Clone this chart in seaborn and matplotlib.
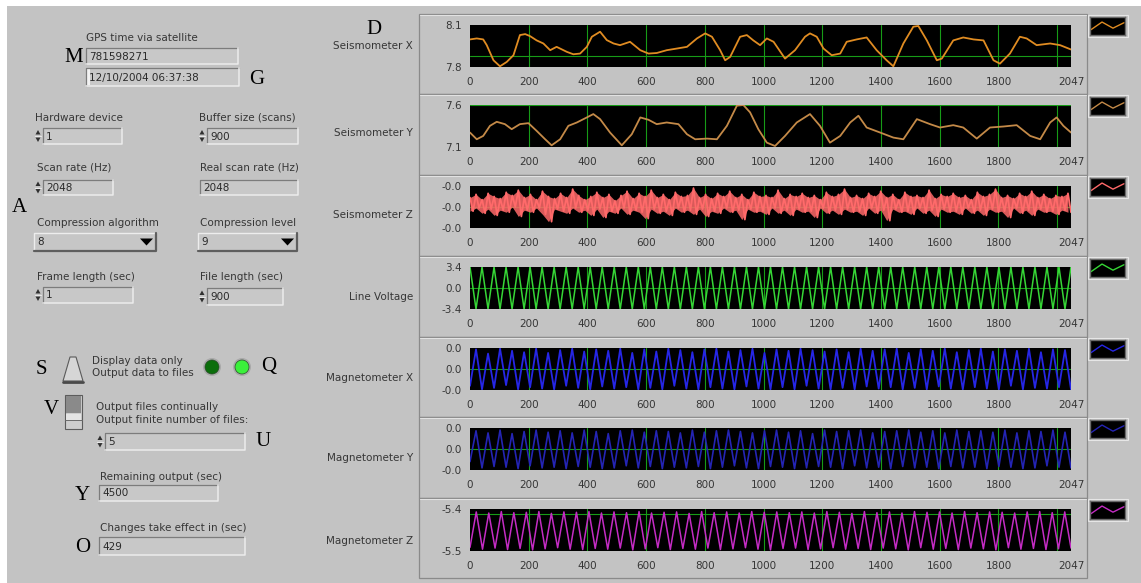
import matplotlib
matplotlib.use('Agg')

import numpy as np
import matplotlib.pyplot as plt
from matplotlib.patches import Rectangle, Polygon, Circle
import seaborn as sns

W, H = 1141, 583

# ---------------- data ----------------
seis_x_samples = [0, 23, 45, 57, 80, 102, 125, 148, 170, 188, 205, 227, 250, 273, 295,
                  330, 352, 375, 398, 415, 443, 466, 489, 511, 545, 580, 608, 636, 670, 705,
                  739, 773, 801, 824, 852, 869, 886, 920, 943, 965, 988, 1011, 1034, 1073, 1107,
                  1141, 1158, 1181, 1204, 1232, 1261, 1283, 1317, 1351, 1385, 1419, 1442, 1476,
                  1510, 1527, 1556, 1590, 1607, 1646, 1680, 1715, 1749, 1783, 1805, 1839, 1873,
                  1896, 1930, 1976, 2010, 2047]
seis_x_values = [7.997, 8.004, 7.997, 7.956, 7.848, 7.805, 7.836, 7.884, 8.028, 8.035,
                 8.02, 7.99, 7.968, 7.92, 7.944, 7.908, 7.891, 7.896, 7.944, 8.016,
                 8.052, 7.992, 7.968, 7.956, 7.98, 7.92, 7.896, 7.90, 7.92, 7.932,
                 7.944, 8.004, 8.04, 8.016, 7.92, 7.848, 7.872, 8.016, 8.028, 7.99,
                 7.956, 8.004, 7.98, 7.86, 7.92, 8.016, 8.04, 8.016, 7.932, 7.884,
                 7.896, 7.98, 7.997, 8.011, 7.92, 7.848, 7.805, 7.968, 8.088, 8.093,
                 7.99, 7.848, 7.86, 7.99, 8.011, 7.997, 7.99, 7.848, 7.824, 7.896,
                 8.016, 8.004, 7.956, 7.968, 7.956, 7.925]

seis_y_samples = [0, 23, 45, 68, 91, 119, 142, 170, 199, 227, 256, 278, 307, 335, 364,
                  398, 420, 443, 477, 517, 551, 580, 608, 636, 670, 710, 739, 767, 807, 841,
                  875, 909, 931, 954, 982, 1011, 1039, 1073, 1113, 1158, 1192, 1226, 1261,
                  1295, 1323, 1351, 1397, 1442, 1476, 1522, 1567, 1601, 1646, 1680, 1726,
                  1771, 1817, 1862, 1908, 1942, 1976, 1998, 2021, 2047]
seis_y_values = [7.272, 7.192, 7.232, 7.352, 7.40, 7.372, 7.312, 7.372, 7.384, 7.292,
                 7.192, 7.12, 7.192, 7.352, 7.392, 7.452, 7.492, 7.432, 7.272, 7.12,
                 7.252, 7.452, 7.424, 7.372, 7.392, 7.372, 7.252, 7.192, 7.20, 7.192,
                 7.352, 7.592, 7.6, 7.512, 7.312, 7.152, 7.112, 7.232, 7.392, 7.492,
                 7.352, 7.152, 7.232, 7.392, 7.472, 7.332, 7.272, 7.212, 7.192, 7.432,
                 7.372, 7.332, 7.36, 7.332, 7.20, 7.332, 7.344, 7.36, 7.232, 7.192,
                 7.392, 7.452, 7.352, 7.272]

# seismometer Z noise, mV (display rounds to -0.0 V), alternating highs / lows
seis_z_values = [
    -1.6, -2.9, -1.3, -2.6, -1.8, -3.1, -1.2, -2.7, -1.5, -3.3,
    -1.7, -2.8, -1.1, -3.0, -1.4, -2.5, -0.9, -3.4, -1.6, -2.8,
    -1.3, -3.0, -1.8, -2.6, -1.0, -3.2, -1.5, -3.9, -1.7, -2.7,
    -1.2, -2.9, -1.6, -3.1, -0.8, -2.6, -1.4, -3.0, -1.8, -2.8,
    -1.5, -3.3, -1.1, -2.7, -1.6, -3.5, -1.3, -2.9, -1.9, -3.1,
    -1.4, -2.6, -1.0, -3.2, -1.7, -2.8, -1.2, -3.0, -1.5, -3.6,
    -0.9, -2.7, -1.6, -3.1, -1.3, -2.9, -1.8, -3.3, -1.1, -2.6,
    -1.5, -3.0, -1.4, -2.8, -0.7, -3.2, -1.6, -2.7, -1.3, -3.4,
    -1.7, -2.9, -1.2, -3.1, -1.5, -2.6, -1.0, -3.0, -1.6, -2.8,
    -1.3, -3.7, -1.8, -2.7, -1.1, -3.0, -1.5, -2.9, -1.4, -3.2,
    -1.6, -2.6, -0.9, -3.1, -1.7, -2.8, -1.3, -3.3, -1.5, -2.7,
    -1.2, -3.0, -1.6, -2.9, -1.4, -3.5, -1.8, -2.6, -1.1, -3.1,
    -1.5, -2.8, -1.3, -3.2, -0.8, -2.7, -1.6, -3.0, -1.4, -2.9,
    -1.7, -3.3, -1.2, -2.6, -1.5, -3.1, -1.0, -2.8, -1.6, -3.8,
    -1.3, -2.7, -1.8, -3.0, -1.1, -2.9, -1.5, -3.2, -1.4, -2.6,
    -1.6, -3.1, -0.9, -2.8, -1.7, -3.4, -1.3, -2.7, -1.5, -3.0,
    -1.2, -2.9, -1.6, -3.2, -1.4, -2.6, -1.8, -3.1, -1.1, -2.8,
    -1.5, -3.3, -1.3, -2.7, -0.8, -3.0, -1.6, -2.9, -1.4, -3.5,
    -1.7, -2.6, -1.2, -3.1, -1.5, -2.8, -1.0, -3.3, -1.6, -2.7,
    -1.3, -3.0, -1.7, -2.9, -1.4, -3.2, -1.5, -2.8, -1.2, -3.0]

# 50 Hz line voltage, peak / trough vertices every half cycle
line_voltage = [
    3.4, -3.4, 3.4, -3.4, 3.4, -3.4, 3.4, -3.4, 3.4, -3.4,
    3.4, -3.4, 3.4, -3.4, 3.4, -3.4, 3.4, -3.4, 3.4, -3.4,
    3.4, -3.4, 3.4, -3.4, 3.4, -3.4, 3.4, -3.4, 3.4, -3.4,
    3.4, -3.4, 3.4, -3.4, 3.4, -3.4, 3.4, -3.4, 3.4, -3.4,
    3.4, -3.4, 3.4, -3.4, 3.4, -3.4, 3.4, -3.4, 3.4, -3.4,
    3.4, -3.4, 3.4, -3.4, 3.4, -3.4, 3.4, -3.4, 3.4, -3.4,
    3.4, -3.4, 3.4, -3.4, 3.4, -3.4, 3.4, -3.4, 3.4, -3.4,
    3.4, -3.4, 3.4, -3.4, 3.4, -3.4, 3.4, -3.4, 3.4, -3.4,
    3.4, -3.4, 3.4, -3.4, 3.4, -3.4, 3.4, -3.4, 3.4, -3.4,
    3.4, -3.4, 3.4, -3.4, 3.4, -3.4, 3.4, -3.4, 3.4, -3.4,
    3.4]

# magnetometers, mV (display rounds to 0.0 V)
mag_x = [
    -2.4, 2.8, -2.9, 2.2, -2.7, 2.9, -2.3, 2.6, -2.9, 2.4,
    -2.6, 2.9, -2.8, 2.3, -2.9, 2.7, -2.4, 2.9, -2.7, 2.5,
    -2.9, 2.8, -2.5, 2.6, -2.8, 2.9, -2.6, 2.3, -2.9, 2.8,
    -2.7, 2.5, -2.9, 2.9, -2.4, 2.7, -2.8, 2.4, -2.9, 2.8,
    -2.6, 2.9, -2.8, 2.5, -2.9, 2.7, -2.5, 2.9, -2.8, 2.3,
    -2.9, 2.8, -2.6, 2.6, -2.9, 2.9, -2.4, 2.7, -2.8, 2.5,
    -2.9, 2.8, -2.7, 2.4, -2.9, 2.9, -2.5, 2.6, -2.8, 2.8,
    -2.6, 2.9, -2.9, 2.3, -2.7, 2.8, -2.9, 2.6, -2.5, 2.9,
    -2.8, 2.4, -2.9, 2.7, -2.6, 2.9, -2.8, 2.5, -2.9, 2.8,
    -2.4, 2.6, -2.9, 2.9, -2.7, 2.4, -2.8, 2.8, -2.6, 2.7,
    -2.9]
mag_y = [
    -1.8, 2.6, -2.7, 2.3, -2.5, 2.7, -2.6, 2.2, -2.8, 2.5,
    -2.4, 2.7, -2.7, 2.4, -2.6, 2.6, -2.8, 2.3, -2.5, 2.7,
    -2.6, 2.5, -2.8, 2.2, -2.7, 2.6, -2.4, 2.7, -2.7, 2.4,
    -2.5, 2.6, -2.8, 2.5, -2.6, 2.3, -2.7, 2.7, -2.5, 2.4,
    -2.8, 2.6, -2.6, 2.7, -2.4, 2.5, -2.7, 2.3, -2.8, 2.6,
    -2.5, 2.7, -2.6, 2.4, -2.8, 2.6, -2.7, 2.2, -2.5, 2.7,
    -2.6, 2.5, -2.8, 2.6, -2.4, 2.7, -2.7, 2.3, -2.6, 2.5,
    -2.8, 2.6, -2.5, 2.7, -2.7, 2.4, -2.6, 2.6, -2.8, 2.3,
    -2.5, 2.7, -2.7, 2.5, -2.6, 2.6, -2.8, 2.4, -2.5, 2.7,
    -2.6, 2.3, -2.8, 2.6, -2.7, 2.5, -2.4, 2.7, -2.6, 2.4,
    -2.7]
mag_z = [
    -5.490, -5.393, -5.495, -5.396, -5.492, -5.392, -5.496, -5.395, -5.493, -5.394,
    -5.497, -5.392, -5.494, -5.397, -5.491, -5.393, -5.495, -5.394, -5.496, -5.392,
    -5.493, -5.396, -5.495, -5.393, -5.492, -5.395, -5.497, -5.392, -5.494, -5.396,
    -5.491, -5.394, -5.496, -5.393, -5.493, -5.397, -5.495, -5.392, -5.492, -5.395,
    -5.496, -5.393, -5.494, -5.396, -5.491, -5.392, -5.495, -5.394, -5.497, -5.393,
    -5.493, -5.395, -5.492, -5.393, -5.496, -5.396, -5.494, -5.392, -5.491, -5.394,
    -5.495, -5.397, -5.493, -5.392, -5.496, -5.395, -5.492, -5.393, -5.494, -5.396,
    -5.497, -5.392, -5.491, -5.394, -5.495, -5.393, -5.493, -5.396, -5.496, -5.392,
    -5.492, -5.395, -5.494, -5.393, -5.497, -5.394, -5.491, -5.396, -5.495, -5.393,
    -5.493, -5.392, -5.496, -5.395, -5.494, -5.393, -5.492]

channel_names = ['Seismometer X', 'Seismometer Y', 'Seismometer Z', 'Line Voltage',
                 'Magnetometer X', 'Magnetometer Y', 'Magnetometer Z']
xtick_values = [0, 200, 400, 600, 800, 1000, 1200, 1400, 1600, 1800, 2000, 2047]
xtick_labels = ['0', '200', '400', '600', '800', '1000', '1200', '1400', '1600', '1800', '', '2047']
legend_glyph = [0.3, 0.72, 0.38, 0.68]

# ---------------- styling ----------------
GRAY = '#c3c3c3'
TXT = '#363636'
GRID = '#179c17'
PT = 0.72  # points per pixel at dpi 100

sns.set_style('white')
plt.rcParams['font.family'] = ['DejaVu Sans']

fig = plt.figure(figsize=(W / 100, H / 100), dpi=100, facecolor='white')


def px_rect(x0, y0, x1, y1):
    return [x0 / W, 1 - y1 / H, (x1 - x0) / W, (y1 - y0) / H]


bg = fig.add_axes([0, 0, 1, 1], zorder=0)
bg.set_xlim(0, W)
bg.set_ylim(H, 0)
bg.axis('off')
bg.add_patch(Rectangle((7, 6), W - 7, H - 6, color=GRAY, lw=0))


def text(x, y, s, size=7.5, **kw):
    bg.text(x, y, s, fontsize=size, color=kw.pop('color', TXT), va='center',
            ha=kw.pop('ha', 'left'), **kw)


def letter(x, y, s):
    bg.text(x, y, s, fontsize=15, family='Liberation Serif', color='black',
            va='center', ha='left')


def field(x0, y0, x1, y1, value, spinner=False):
    bg.add_patch(Rectangle((x0, y0), x1 - x0, y1 - y0, fc='#c8c8c8', ec='none'))
    bg.plot([x0, x0, x1], [y1, y0, y0], color='#7c7c7c', lw=0.9)
    bg.plot([x0, x1, x1], [y1, y1, y0], color='#ececec', lw=1.1)
    text(x0 + 3, (y0 + y1) / 2 + 0.5, value, size=7.5, color='#2a2a2a')
    if spinner:
        ym = (y0 + y1) / 2
        bg.add_patch(Polygon([(x0 - 7.5, ym - 1.5), (x0 - 2.5, ym - 1.5), (x0 - 5, ym - 6)],
                             closed=True, fc='#303030', ec='none'))
        bg.add_patch(Polygon([(x0 - 7.5, ym + 1.5), (x0 - 2.5, ym + 1.5), (x0 - 5, ym + 6)],
                             closed=True, fc='#303030', ec='none'))
        bg.plot([x0 - 8, x0 - 2], [ym, ym], color='#e8e8e8', lw=0.8)


def dropdown(x0, y0, x1, y1, value):
    bg.add_patch(Rectangle((x0, y0), x1 - x0, y1 - y0, fc='#c6c6c6', ec='none'))
    bg.plot([x0, x0, x1], [y1, y0, y0], color='#ededed', lw=1.0)
    bg.plot([x0, x1, x1], [y1, y1, y0], color='#5e5e5e', lw=1.6)
    text(x0 + 3, (y0 + y1) / 2, value, size=7.5, color='#2a2a2a')
    ym = (y0 + y1) / 2
    bg.add_patch(Polygon([(x1 - 16, ym - 3.5), (x1 - 3, ym - 3.5), (x1 - 9.5, ym + 3.5)],
                         closed=True, fc='black', ec='none'))


# ---------------- left control panel ----------------
text(86, 38, 'GPS time via satellite')
field(86, 48, 238, 64, '781598271')
field(86, 68, 239, 86, '12/10/2004 06:37:38')
bg.add_patch(Rectangle((87, 69), 2.5, 16, fc='#f2f2f2', ec='none'))
letter(64, 57, 'M')
letter(249, 80, 'G')

text(35, 118, 'Hardware device')
field(43, 128, 122, 144, '1', spinner=True)
text(199, 118, 'Buffer size (scans)')
field(207, 128, 298, 144, '900', spinner=True)

text(37, 168, 'Scan rate (Hz)')
field(43, 180, 113, 195, '2048', spinner=True)
text(200, 168, 'Real scan rate (Hz)')
field(200, 180, 298, 195, '2048')
letter(12, 208, 'A')

text(37, 223, 'Compression algorithm')
dropdown(34, 233, 156, 251, '8')
text(200, 223, 'Compression level')
dropdown(198, 233, 297, 251, '9')

text(37, 277, 'Frame length (sec)')
field(43, 287, 133, 303, '1', spinner=True)
text(200, 277, 'File length (sec)')
field(207, 288, 283, 305, '900', spinner=True)

# toggle switch S
bg.add_patch(Polygon([(70, 357), (76, 357), (83, 381), (63, 381)], closed=True,
                     fc='#d6d6d6', ec='#5a5a5a', lw=0.8))
bg.plot([63, 83], [382, 382], color='#4a4a4a', lw=2)
letter(36, 369, 'S')
text(92, 361, 'Display data only')
text(92, 373, 'Output data to files')
for cx, c in [(212, '#0b6e0b'), (242, '#3bf03b')]:
    bg.add_patch(Circle((cx, 367), 9, fc='#a9a9a9', ec='none'))
    bg.add_patch(Circle((cx, 367), 7, fc=c, ec='#2a4a2a', lw=0.5))
letter(261, 367, 'Q')

# vertical slider V
bg.add_patch(Rectangle((65, 395), 17, 34, fc='#cdcdcd', ec='#5c5c5c', lw=0.8))
bg.add_patch(Rectangle((66, 396), 15, 17, fc='#8a8a8a', ec='none'))
bg.plot([65, 82], [420, 420], color='#6a6a6a', lw=0.7)
bg.add_patch(Rectangle((66, 413.5), 15, 6, fc='#e4e4e4', ec='none'))
letter(44, 409, 'V')
text(96, 407, 'Output files continually')
text(96, 420, 'Output finite number of files:')
field(105, 433, 245, 450, '5', spinner=True)
letter(256, 441, 'U')

text(100, 477, 'Remaining output (sec)')
field(99, 485, 218, 501, '4500')
letter(75, 495, 'Y')
text(100, 528, 'Changes take effect in (sec)')
field(99, 537, 245, 555, '429')
letter(75, 547, 'O')

letter(366, 29, 'D')

# ---------------- waveform graphs ----------------
panel_tops = [14, 94, 175, 256, 337, 417, 498]
panel_bottom = 578
label_y = [46, 133, 215, 297, 378, 458, 541]

half_lv = np.linspace(0, 2047, len(line_voltage))
half_mx = np.linspace(0, 2047, len(mag_x))
half_my = np.linspace(0, 2047, len(mag_y))
half_mz = np.linspace(0, 2047, len(mag_z))
z_samples = np.linspace(0, 2047, len(seis_z_values))

channels = [
    dict(x=seis_x_samples, y=seis_x_values, color='#e08c22', lw=1.3, ylim=(7.8, 8.1),
         yt=[7.8, 7.88, 8.1], yl=['7.8', '', '8.1'], hg=[7.88]),
    dict(x=seis_y_samples, y=seis_y_values, color='#c48a48', lw=1.3, ylim=(7.1, 7.6),
         yt=[7.1, 7.6], yl=['7.1', '7.6'], hg=[7.6]),
    dict(x=z_samples, y=seis_z_values, color='#ff6a6a', lw=1.3, ylim=(-4.5, -0.5),
         yt=[-4.5, -2.5, -0.5], yl=['-0.0', '-0.0', '-0.0'], hg=[-2.5]),
    dict(x=half_lv, y=line_voltage, color='#36d636', lw=1.1, ylim=(-3.4, 3.4),
         yt=[-3.4, 0, 3.4], yl=['-3.4', '0.0', '3.4'], hg=[0]),
    dict(x=half_mx, y=mag_x, color='#2626e6', lw=1.3, ylim=(-3, 3),
         yt=[-3, 0, 3], yl=['-0.0', '0.0', '0.0'], hg=[0]),
    dict(x=half_my, y=mag_y, color='#2424b4', lw=1.2, ylim=(-3, 3),
         yt=[-3, 0, 3], yl=['-0.0', '0.0', '0.0'], hg=[0]),
    dict(x=half_mz, y=mag_z, color='#c42cc4', lw=1.1, ylim=(-5.5, -5.385),
         yt=[-5.5, -5.4, -5.385], yl=['-5.5', '', '-5.4'], hg=[-5.4]),
]

for i, ch in enumerate(channels):
    top = panel_tops[i]
    bottom = panel_tops[i + 1] if i + 1 < len(panel_tops) else panel_bottom
    # panel frame
    bg.add_patch(Rectangle((419, top), 668, bottom - top, fill=False, ec='#8a8a8a', lw=0.9))
    bg.plot([420, 1086], [top + 1.2, top + 1.2], color='#e2e2e2', lw=0.8)
    text(413, label_y[i], channel_names[i], ha='right')

    ax = fig.add_axes(px_rect(470, top + 11, 1071, top + 53), zorder=2)
    ax.set_facecolor('black')
    for g in xtick_values[1:-1]:
        ax.axvline(g, color=GRID, lw=0.8, zorder=1)
    for g in ch['hg']:
        ax.axhline(g, color=GRID, lw=0.8, zorder=1)
    if i == 2:
        # dense noise band between the successive highs and lows
        ax.fill_between(ch['x'][0::2], ch['y'][0::2], ch['y'][1::2],
                        color=ch['color'], alpha=0.85, lw=0, zorder=2)
    sns.lineplot(x=ch['x'], y=ch['y'], ax=ax, color=ch['color'], linewidth=ch['lw'],
                 estimator=None, sort=False, zorder=3)
    ax.set_xlim(0, 2047)
    ax.set_ylim(*ch['ylim'])
    ax.set_xlabel('')
    ax.set_ylabel('')
    for s in ax.spines.values():
        s.set_visible(False)
    ax.spines['bottom'].set_position(('outward', 3 * PT))
    ax.spines['left'].set_position(('outward', 1.5 * PT))
    ax.set_xticks(xtick_values)
    ax.set_xticklabels(xtick_labels)
    ax.set_yticks(ch['yt'])
    ax.set_yticklabels(ch['yl'])
    ax.tick_params(axis='x', direction='out', length=4 * PT, width=0.9, pad=2,
                   colors=TXT, labelsize=7.5)
    ax.tick_params(axis='y', direction='out', length=5 * PT, width=0.9, pad=1,
                   colors=TXT, labelsize=7.5)

    # plot legend glyph on the right
    bg.add_patch(Rectangle((1087.5, top + 1), 40, 22, fill=False, ec='#e6e6e6', lw=0.8))
    lax = fig.add_axes(px_rect(1090, top + 3, 1125, top + 21), zorder=2)
    lax.set_facecolor('black')
    sns.lineplot(x=range(len(legend_glyph)), y=legend_glyph, ax=lax, color=ch['color'],
                 linewidth=1.0, estimator=None)
    lax.set_xlim(-0.1, len(legend_glyph) - 0.9)
    lax.set_ylim(0, 1)
    lax.set_xticks([])
    lax.set_yticks([])
    lax.set_xlabel('')
    lax.set_ylabel('')
    for s in lax.spines.values():
        s.set_color('#6a6a6a')
        s.set_linewidth(1.0)

fig.savefig('out.png', dpi=100, facecolor=fig.get_facecolor())
